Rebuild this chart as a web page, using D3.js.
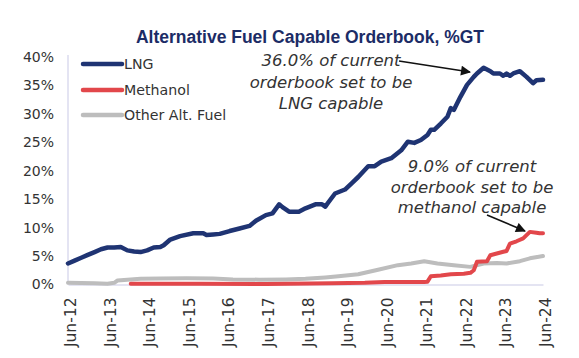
<!DOCTYPE html>
<html>
<head>
<meta charset="utf-8">
<script src="https://cdn.jsdelivr.net/npm/d3@7"></script>
<style>
  html, body { margin: 0; padding: 0; background: #ffffff; }
  svg { display: block; }
</style>
</head>
<body>
<svg id="chart" width="579" height="358"></svg>
<script>
// ---------- data (month offsets from Jun-2012, values in %GT) ----------
const startMonth = "2012-06";
const xTickLabels = ["Jun-12","Jun-13","Jun-14","Jun-15","Jun-16","Jun-17","Jun-18","Jun-19","Jun-20","Jun-21","Jun-22","Jun-23","Jun-24"];
const yTickValues = [0, 5, 10, 15, 20, 25, 30, 35, 40];

const lngMonths = [0,2,4,6,8,10,12,14,16,18,20,22,24,26,28,29,31,34,38,41,42,44,46,49,52,55,57,60,62,64,65,67,70,72,75,77,78,79,81,84,86,88,91,93,95,98,101,103,105,107,109,110,111,113,115,116,117,119,121,123,124,126,128,129,131,132,133,134,135,137,139,141,142,144];
const lngValues = [3.7,4.2,4.7,5.2,5.7,6.2,6.5,6.5,6.6,6.0,5.8,5.7,6.0,6.5,6.6,6.9,7.9,8.5,9.0,9.0,8.7,8.8,8.9,9.4,9.85,10.3,11.2,12.2,12.5,14.1,13.6,12.8,12.8,13.4,14.1,14.1,13.7,14.5,16.0,16.7,17.8,18.9,20.8,20.8,21.6,22.2,23.6,25.1,24.9,25.4,26.3,27.2,27.2,28.3,29.5,31.0,30.7,33.0,35.1,36.5,37.1,38.1,37.5,37.1,37.1,36.7,37.1,36.7,37.1,37.5,36.5,35.4,35.9,36.0];

const methanolMonths = [19,40,60,80,90,96,108,109,110,113,116,120,122,123,124,127,128,130,132,133,134,136,138,140,142,143,144];
const methanolValues = [0.15,0.15,0.1,0.2,0.3,0.45,0.45,0.5,1.45,1.6,1.8,1.9,2.05,2.5,4.0,4.1,5.15,5.45,5.75,5.9,7.2,7.6,8.1,9.25,9.1,9.0,9.0];

const otherMonths = [0,4,8,12,14,15,18,22,28,36,44,50,58,66,72,78,82,88,94,100,104,108,112,117,122,126,130,133,137,140,144];
const otherValues = [0.3,0.25,0.2,0.15,0.3,0.7,0.85,1.0,1.05,1.1,1.05,0.9,0.85,0.9,1.0,1.25,1.45,1.8,2.6,3.4,3.7,4.1,3.7,3.4,3.1,3.7,3.8,3.7,4.1,4.6,5.0];

const seriesNames = ["LNG", "Methanol", "Other Alt. Fuel"];
const seriesColors = ["#1f3473", "#e2474b", "#bdbdbd"];

const titleText = "Alternative Fuel Capable Orderbook, %GT";
const annoLng = ["36.0% of current", "orderbook set to be", "LNG capable"];
const annoMeth = ["9.0% of current", "orderbook set to be", "methanol capable"];

// ---------- helpers ----------
const parseMonth = d3.timeParse("%Y-%m");
const t0 = parseMonth(startMonth);
const toDate = m => d3.timeMonth.offset(t0, m);
const zip = (ms, vs) => ms.map((m, i) => ({ date: toDate(m), value: vs[i] }));

const series = [
  zip(lngMonths, lngValues),
  zip(methanolMonths, methanolValues),
  zip(otherMonths, otherValues)
];

// ---------- layout ----------
const svg = d3.select("#chart");
const plotLeft = 68, plotRight = 543, plotTop = 57, plotBottom = 284.5;

const x = d3.scaleTime().domain([t0, d3.timeMonth.offset(t0, 144)]).range([plotLeft, plotRight]);
const y = d3.scaleLinear().domain([0, 40]).range([plotBottom, plotTop]);

const font = "'DejaVu Sans', sans-serif";

// title
svg.append("text")
  .attr("x", 310).attr("y", 43)
  .attr("text-anchor", "middle")
  .attr("font-family", "'Liberation Sans', Arial, sans-serif")
  .attr("font-weight", "bold")
  .attr("font-size", 17.5)
  .attr("fill", "#1c2c66")
  .text(titleText);

// y axis
const yAxis = d3.axisLeft(y).tickValues(yTickValues).tickFormat(d => d + "%").tickSize(0).tickPadding(14);
const gy = svg.append("g").attr("transform", `translate(${plotLeft},0)`).call(yAxis);
gy.select(".domain").attr("stroke", "#c9c9e6").attr("stroke-width", 1).attr("d", `M0,${plotTop - 2}V${plotBottom}`);
gy.selectAll("text").attr("font-family", font).attr("font-size", 14).attr("fill", "#333");

// x axis
const xTicks = xTickLabels.map((_, i) => d3.timeYear.offset(t0, i));
const xAxis = d3.axisBottom(x).tickValues(xTicks).tickFormat((d, i) => xTickLabels[i]).tickSize(0);
const gx = svg.append("g").attr("transform", `translate(0,${plotBottom})`).call(xAxis);
gx.select(".domain").attr("stroke", "#c9c9e6").attr("stroke-width", 1.2);
gx.selectAll("text")
  .attr("font-family", font).attr("font-size", 15.5).attr("fill", "#333")
  .attr("transform", "rotate(-90)")
  .attr("text-anchor", "end")
  .attr("x", -13).attr("y", 2).attr("dy", "0.36em");

// lines
const line = d3.line().x(d => x(d.date)).y(d => y(d.value)).curve(d3.curveLinear);
const order = [2, 1, 0];
const widths = [4.5, 4, 4];
order.forEach(i => {
  svg.append("path")
    .datum(series[i])
    .attr("fill", "none")
    .attr("stroke", seriesColors[i])
    .attr("stroke-width", widths[i])
    .attr("stroke-linejoin", "round")
    .attr("stroke-linecap", "round")
    .attr("d", line);
});

// legend
const legendY = [64, 90, 115];
seriesNames.forEach((name, i) => {
  svg.append("line")
    .attr("x1", 83).attr("x2", 122).attr("y1", legendY[i]).attr("y2", legendY[i])
    .attr("stroke", seriesColors[i]).attr("stroke-width", 4.5).attr("stroke-linecap", "round");
  svg.append("text")
    .attr("x", 124).attr("y", legendY[i]).attr("dy", "0.36em")
    .attr("font-family", font).attr("font-size", 14.2).attr("fill", "#333")
    .text(name);
});

// annotations
function annotate(lines, cx, baseY, lh) {
  const t = svg.append("text")
    .attr("font-family", font).attr("font-style", "italic")
    .attr("font-size", 16.5).attr("fill", "#333").attr("text-anchor", "middle");
  lines.forEach((s, i) => t.append("tspan").attr("x", cx).attr("y", baseY + i * lh).text(s));
}
annotate(annoLng, 331, 66, 21.5);
annotate(annoMeth, 472, 172, 20.5);

// arrows
const defs = svg.append("defs");
defs.append("marker").attr("id", "ah").attr("viewBox", "0 0 10 10")
  .attr("refX", 9).attr("refY", 5).attr("markerWidth", 12).attr("markerHeight", 10)
  .attr("markerUnits", "userSpaceOnUse").attr("orient", "auto")
  .append("path").attr("d", "M0,0L10,5L0,10z").attr("fill", "#111");

svg.append("line").attr("x1", 399).attr("y1", 61).attr("x2", 470).attr("y2", 72)
  .attr("stroke", "#111").attr("stroke-width", 1.6).attr("marker-end", "url(#ah)");
svg.append("line").attr("x1", 487).attr("y1", 215).attr("x2", 525).attr("y2", 231)
  .attr("stroke", "#111").attr("stroke-width", 1.6).attr("marker-end", "url(#ah)");
</script>
</body>
</html>
